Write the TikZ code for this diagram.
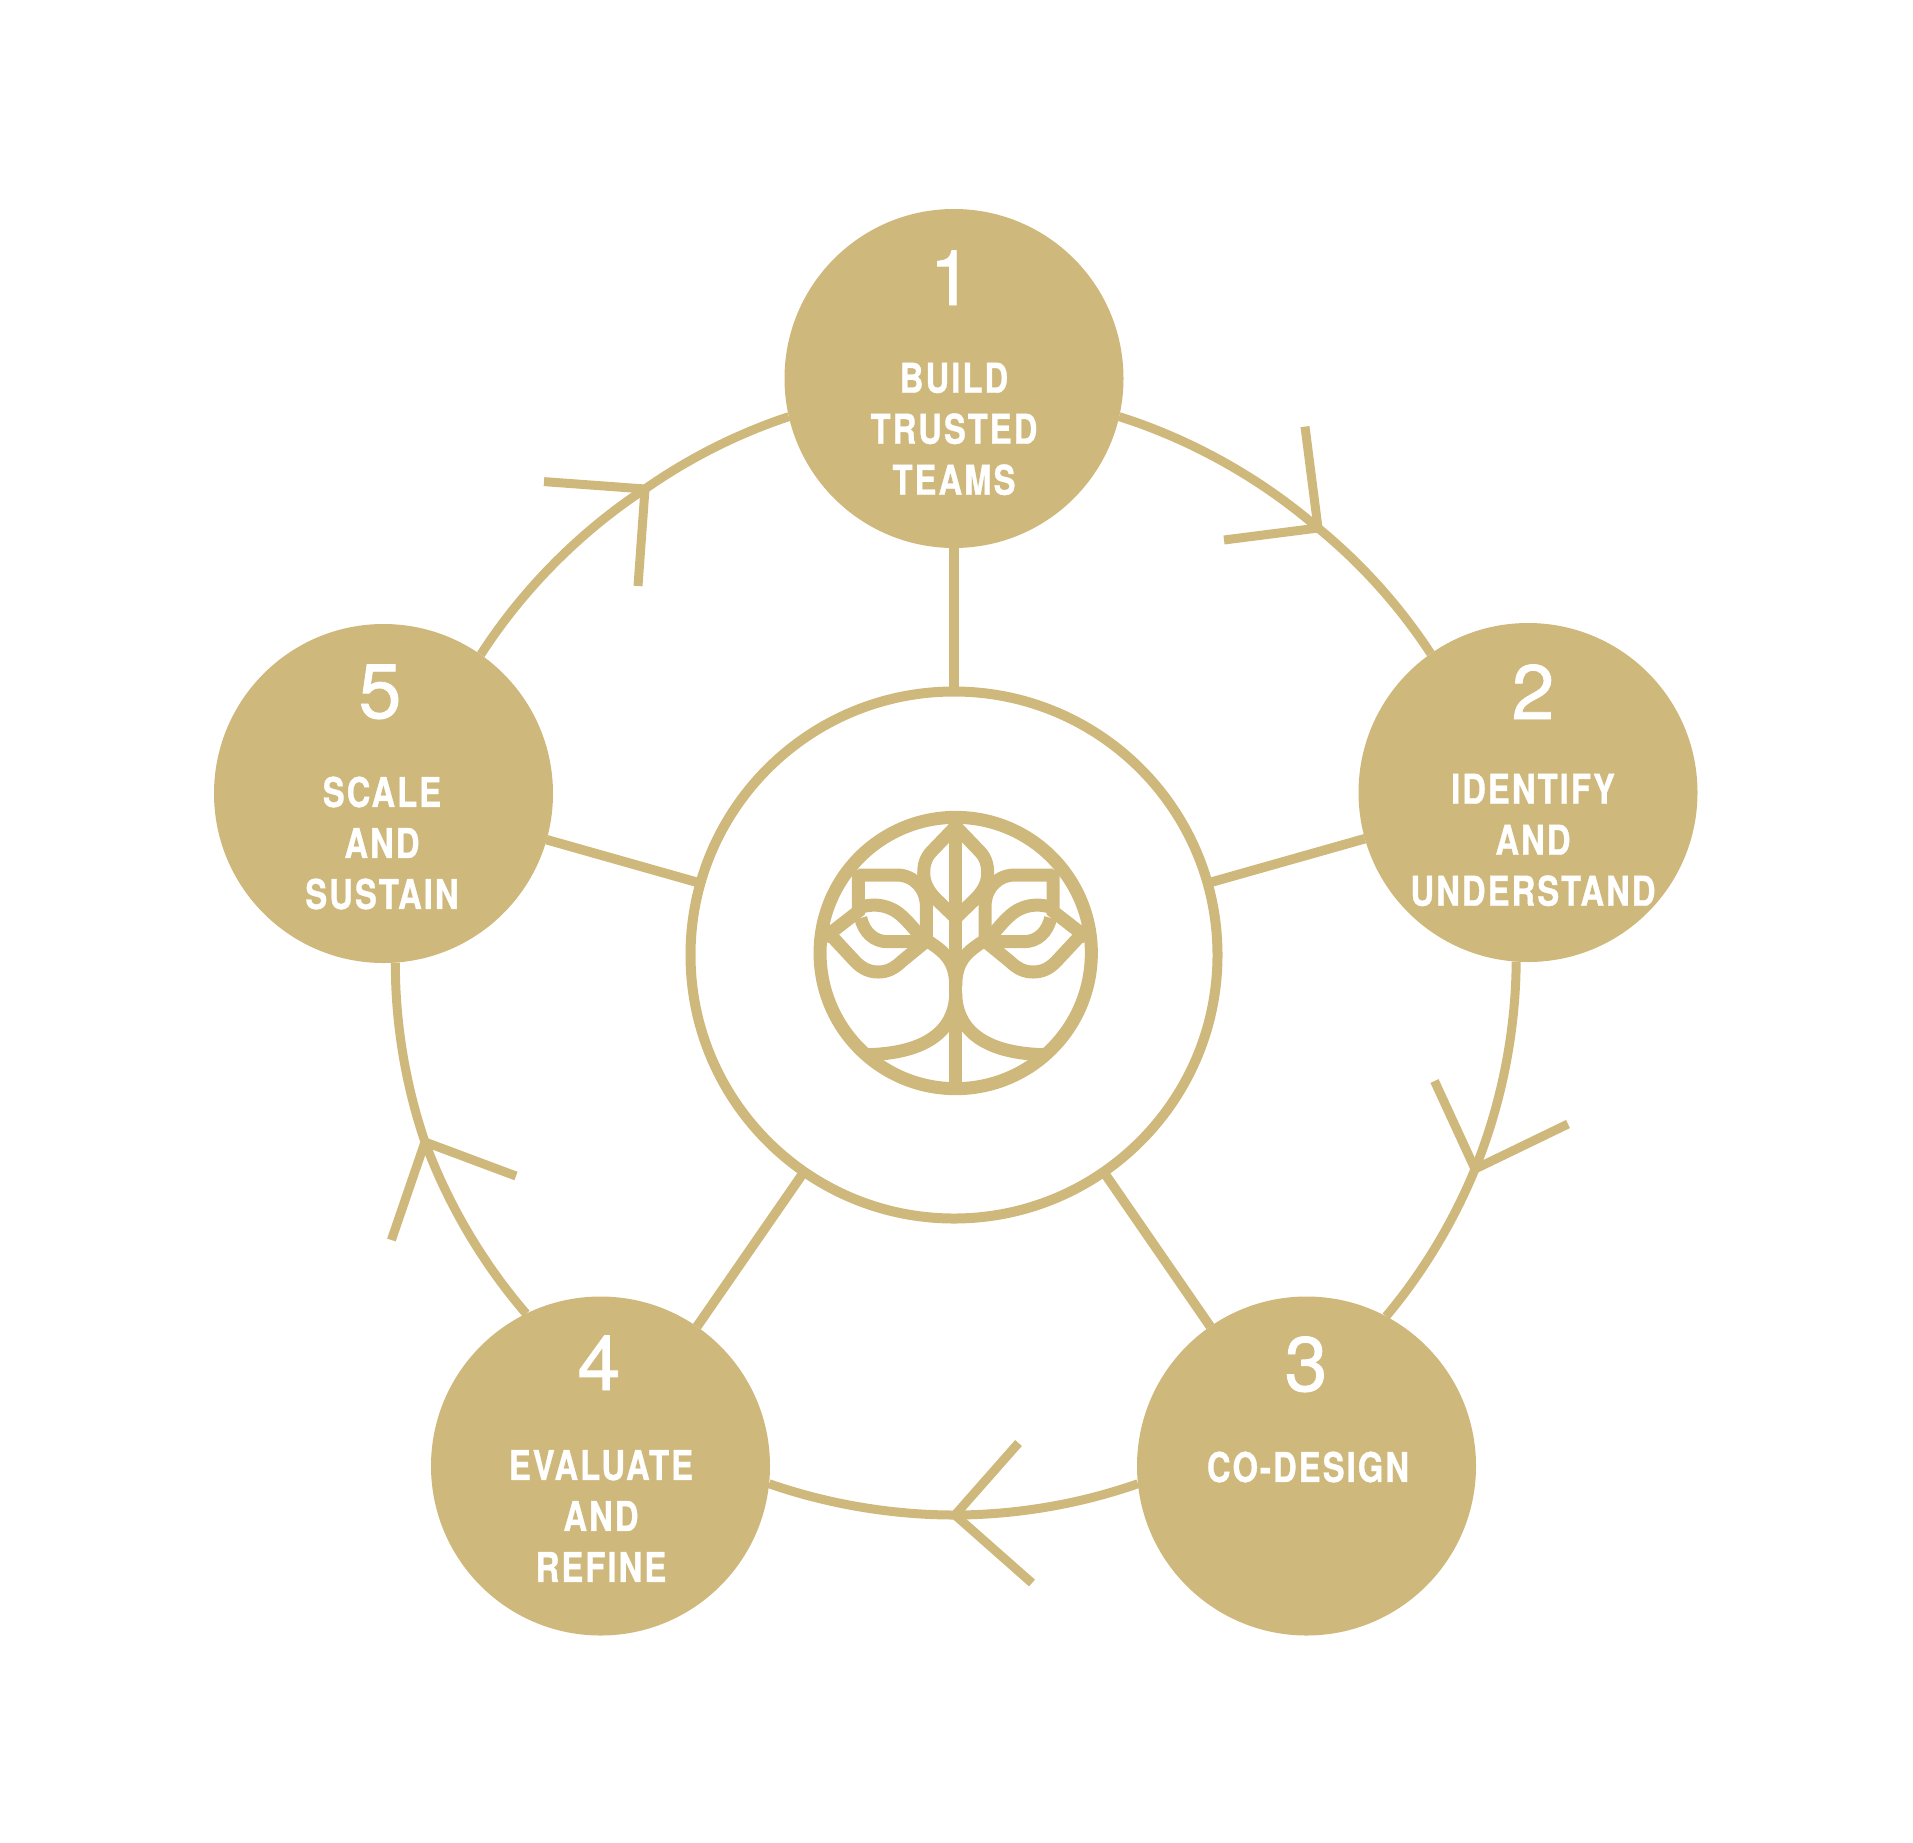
\documentclass[tikz,border=0pt]{standalone}
\usepackage{fontspec}
\newfontfamily\labelfont[FakeStretch=.8,FakeBold=.8,LetterSpace=5]{TeX Gyre Heros}
\newfontfamily\numfont[FakeBold=1]{TeX Gyre Heros}
\definecolor{gold}{HTML}{CFB87C}
\tikzset{
  stepnode/.style={circle,fill=gold,minimum size=339pt,inner sep=0pt,outer sep=0pt},
  hubnode/.style={circle,draw=gold,line width=10pt,minimum size=527pt,inner sep=0pt,outer sep=0pt},
  numtext/.style={text=white,anchor=base,inner sep=0pt,font=\numfont\fontsize{77}{77}\selectfont},
  steptext/.style={text=white,align=center,inner sep=0pt,font=\labelfont\bfseries\fontsize{41}{51}\selectfont},
  spoke/.style={draw=gold,line width=9.5pt},
  ring/.style={draw=gold,line width=9pt,looseness=.85},
  barb/.style={draw=gold,line width=9pt},
  logoline/.style={draw=gold,line width=13pt}
}
\begin{document}
\begin{tikzpicture}[x=1pt,y=-1pt]
  \useasboundingbox (0,0) rectangle (1913,1842);
  \node [hubnode] (H) at (954,955) {};
  \node [stepnode] (N1) at (954,378.5) {};
  \node [stepnode] (N2) at (1528,792.5) {};
  \node [stepnode] (N3) at (1306.5,1466) {};
  \node [stepnode] (N4) at (600.5,1466) {};
  \node [stepnode] (N5) at (383.5,793.5) {};
  % numbers and names
  \node [numtext] (D1) at (951,305) {1};
  \node [numtext] (D2) at (1533,719) {2};
  \node [numtext] (D3) at (1306,1391) {3};
  \node [numtext] (D4) at (599,1390) {4};
  \node [numtext] (D5) at (380,718) {5};
  \node [steptext] (L1) at (954,429) {BUILD\\TRUSTED\\TEAMS};
  \node [steptext] (L2) at (1533,840) {IDENTIFY\\AND\\UNDERSTAND};
  \node [steptext] (L3) at (1308,1467) {CO-DESIGN};
  \node [steptext] (L4) at (601,1516) {EVALUATE\\AND\\REFINE};
  \node [steptext] (L5) at (382,843) {SCALE\\AND\\SUSTAIN};
  % spokes
  \path (H) edge [spoke] (N1);
  \path (H) edge [spoke] (N2);
  \path (H) edge [spoke] (N3);
  \path (H) edge [spoke] (N4);
  \path (H) edge [spoke] (N5);
  % arrow points on the ring
  \coordinate (T12) at (1318,528);
  \coordinate (T12a) at (1305,426.6);
  \coordinate (T12b) at (1224,540);
  \coordinate (T23) at (1475,1169);
  \coordinate (T23a) at (1434.5,1081);
  \coordinate (T23b) at (1568,1124);
  \coordinate (T34) at (955,1515);
  \coordinate (T34a) at (1018.5,1443);
  \coordinate (T34b) at (1032,1583);
  \coordinate (T45) at (425,1142);
  \coordinate (T45a) at (516,1176);
  \coordinate (T45b) at (391.4,1240);
  \coordinate (T51) at (645,489);
  \coordinate (T51a) at (544,481.6);
  \coordinate (T51b) at (638,586);
  % ring
  \path (N1.-13.3) edge [ring,bend left=11.7] (T12);
  \path (T12) edge [ring,bend left=8.8] (N2.125.7);
  \path (N2.-94.4) edge [ring,bend left=10.9] (T23);
  \path (T23) edge [ring,bend left=8.9] (N3.62.9);
  \path (N3.186.4) edge [ring,bend left=9.6] (T34);
  \path (T34) edge [ring,bend left=9.6] (N4.-6.4);
  \path (N4.116.5) edge [ring,bend left=10.3] (T45);
  \path (T45) edge [ring,bend left=9.5] (N5.-86.2);
  \path (N5.55.3) edge [ring,bend left=12] (T51);
  \path (T51) edge [ring,bend left=8.4] (N1.193.3);
  % barbs
  \foreach \t in {T12,T23,T34,T45,T51} {
    \draw [barb,line join=miter] (\t a) -- (\t) -- (\t b);
  }
  % tree in the hub
  \begin{scope}[shift={(955.7,953)},x=.3333pt,y=-.3333pt]
    \draw [logoline] (0,0) circle [radius=407];
    \draw [logoline] (0,-400) -- (0,400);
    \foreach \f in {1,-1} {
      \begin{scope}[xscale=\f]
        \draw [logoline] (0,-380) -- (-72,-305) .. controls (-92,-285) and (-96,-260) .. (-96,-240) .. controls (-96,-205) and (-77,-180) .. (-57,-160) -- (0,-105);
        \draw [logoline] (-292,-250) -- (-292,-125) -- (-395,-45);
        \draw [logoline] (-292,-234) -- (-177,-234) .. controls (-125,-234) and (-88,-192) .. (-88,-140) -- (-88,-30);
        \draw [logoline] (-292,-135) .. controls (-260,-147) and (-215,-150) .. (-175,-122) .. controls (-145,-100) and (-125,-70) .. (-100,-45);
        \draw [logoline] (-285,-105) .. controls (-275,-62) and (-245,-34) .. (-205,-34) -- (-88,-34);
        \draw [logoline] (-395,-75) -- (-302,25) .. controls (-280,48) and (-258,57) .. (-232,57) .. controls (-206,57) and (-185,47) .. (-162,25) -- (-85,-38);
        \draw [logoline] (-87,-38) .. controls (-37,-5) and (0,20) .. (0,100);
        \draw [logoline] (0,120) .. controls (0,210) and (-59,299) .. (-262,305);
      \end{scope}
    }
  \end{scope}
\end{tikzpicture}
\end{document}
